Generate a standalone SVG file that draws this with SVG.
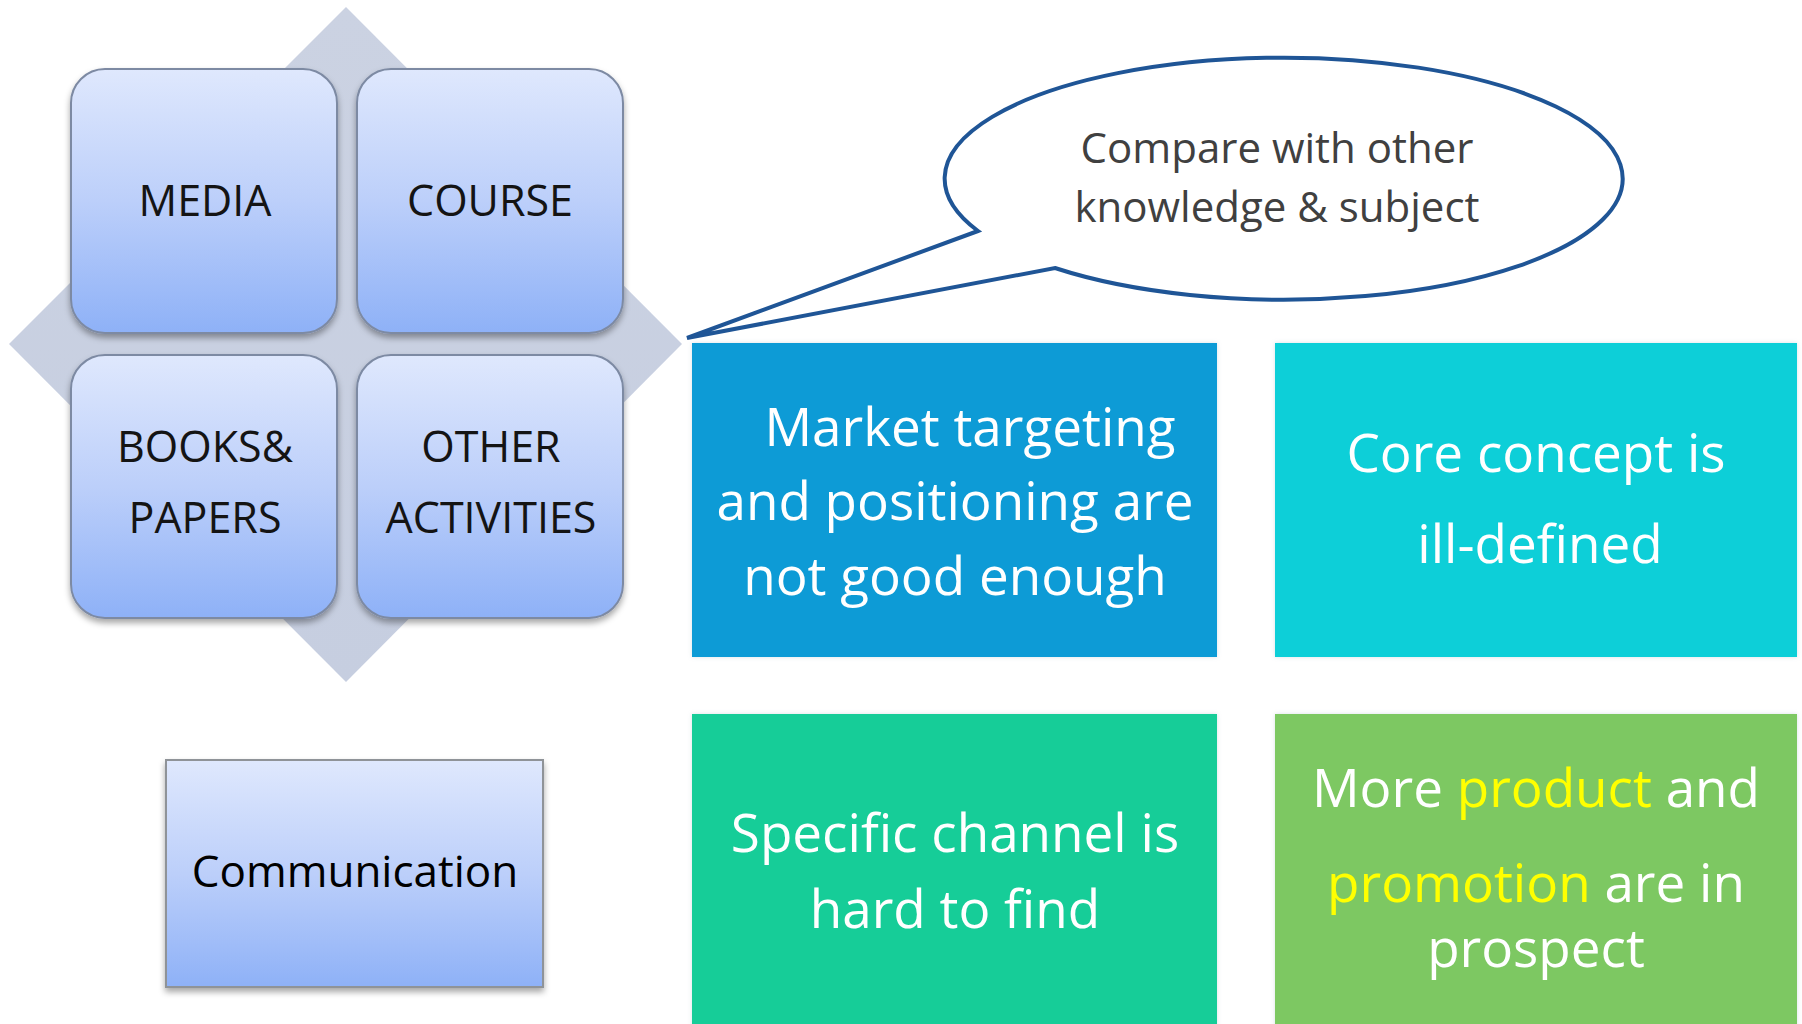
<svg xmlns="http://www.w3.org/2000/svg" width="1802" height="1024" viewBox="0 0 1802 1024">
<defs>
<linearGradient id="gSq" x1="0" y1="0" x2="0" y2="1">
<stop offset="0" stop-color="#dfe8fd"/>
<stop offset="0.5" stop-color="#bccffa"/>
<stop offset="1" stop-color="#8eb1f7"/>
</linearGradient>
<linearGradient id="gDia" x1="0" y1="0" x2="0" y2="1">
<stop offset="0" stop-color="#cbd2e2"/>
<stop offset="1" stop-color="#c6cee0"/>
</linearGradient>
<filter id="sh" x="-20%" y="-20%" width="140%" height="140%">
<feDropShadow dx="0" dy="4" stdDeviation="3" flood-color="#000" flood-opacity="0.35"/>
</filter>
<filter id="glow" x="-5%" y="-5%" width="110%" height="110%">
<feDropShadow dx="0" dy="0" stdDeviation="2" flood-color="#9ab" flood-opacity="0.35"/>
</filter>
</defs>
<style>
.sq{fill:url(#gSq);stroke:#7d8aa3;stroke-width:2;filter:url(#sh)}
.lbl{font-family:"Open Sans","Liberation Sans",sans-serif;font-size:43px;fill:#141414;text-anchor:middle}
.box{filter:url(#glow)}
.wt{font-family:"Open Sans","Liberation Sans",sans-serif;font-size:53px;fill:#ffffff;text-anchor:middle}
.yl{fill:#ffff00}
.co{font-family:"Open Sans","Liberation Sans",sans-serif;font-size:42px;fill:#404040;text-anchor:middle}
</style>
<rect width="1802" height="1024" fill="#ffffff"/>

<g id="diamond">
<polygon points="346,7 682,344 346,682 9,344" fill="url(#gDia)"/>
</g>
<g id="media">
<rect class="sq" x="71" y="69" width="266" height="264" rx="34"/>
<text class="lbl" x="205" y="216">MEDIA</text>
</g>
<g id="course">
<rect class="sq" x="357" y="69" width="266" height="264" rx="34"/>
<text class="lbl" x="490" y="216">COURSE</text>
</g>
<g id="books">
<rect class="sq" x="71" y="355" width="266" height="263" rx="34"/>
<text class="lbl" x="205" y="462">BOOKS&amp;</text>
<text class="lbl" x="205" y="533">PAPERS</text>
</g>
<g id="other">
<rect class="sq" x="357" y="355" width="266" height="263" rx="34"/>
<text class="lbl" x="491" y="462">OTHER</text>
<text class="lbl" x="491" y="533">ACTIVITIES</text>
</g>

<g id="communication">
<rect x="166" y="760" width="377" height="227" fill="url(#gSq)" stroke="#8f9398" stroke-width="2" filter="url(#sh)"/>
<text class="lbl" x="355" y="887" style="font-size:44px;fill:#000">Communication</text>
</g>

<g id="callout">
<path d="M 978,231 L 687,338 L 1055,268 A 339 121 0 1 0 978,231 Z" fill="#ffffff" stroke="#1f5596" stroke-width="4" stroke-linejoin="miter"/>
<text class="co" x="1277" y="163">Compare with other</text>
<text class="co" x="1277" y="222">knowledge &amp; subject</text>
</g>

<g id="market">
<rect class="box" x="692" y="343" width="525" height="314" fill="#0b9bd6"/>
<text class="wt" x="970" y="446">Market targeting</text>
<text class="wt" x="955" y="520">and positioning are</text>
<text class="wt" x="955" y="595">not good enough</text>
</g>
<g id="core">
<rect class="box" x="1275" y="343" width="522" height="314" fill="#10cfd8"/>
<text class="wt" x="1536" y="472">Core concept is</text>
<text class="wt" x="1540" y="563">ill-defined</text>
</g>
<g id="channel">
<rect class="box" x="692" y="714" width="525" height="316" fill="#14cd98"/>
<text class="wt" x="955" y="852">Specific channel is</text>
<text class="wt" x="955" y="928">hard to find</text>
</g>
<g id="prospect">
<rect class="box" x="1275" y="714" width="522" height="316" fill="#7dc862"/>
<text class="wt" x="1536" y="807">More <tspan class="yl">product</tspan> and</text>
<text class="wt" x="1536" y="902"><tspan class="yl">promotion</tspan> are in</text>
<text class="wt" x="1536" y="967">prospect</text>
</g>
</svg>
